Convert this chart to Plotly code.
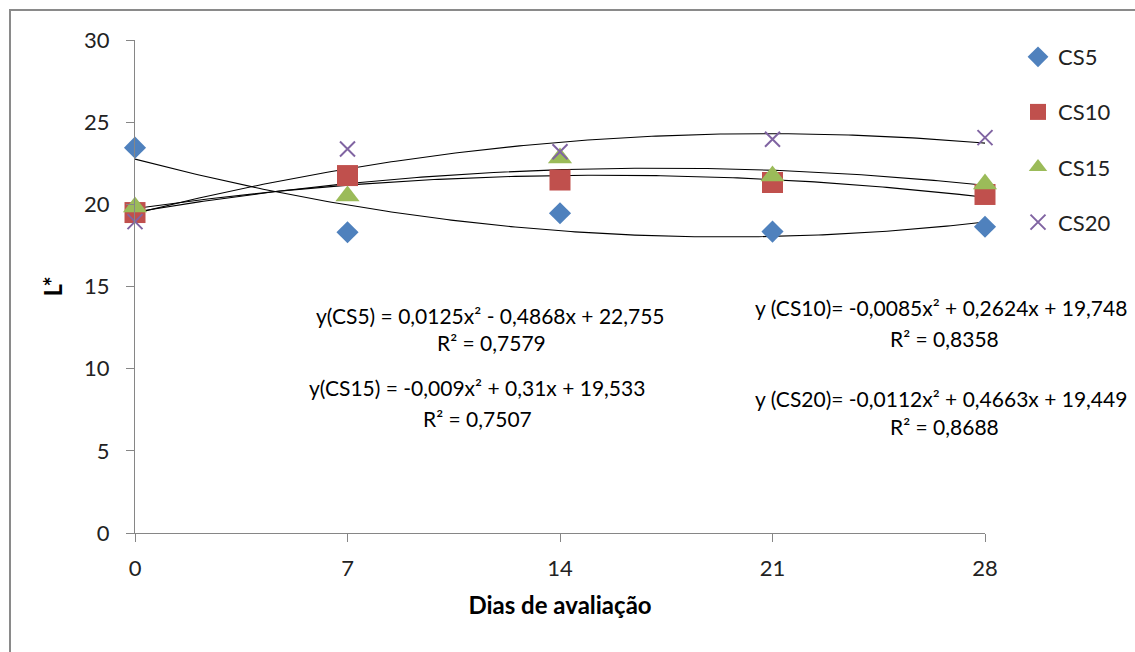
import numpy as np
import plotly.graph_objects as go

# Sampling days
dias = [0, 7, 14, 21, 28]

# L* values per treatment
cs5 = [23.45, 18.3, 19.46, 18.34, 18.64]
cs10 = [19.5, 21.75, 21.48, 21.33, 20.6]
cs15 = [19.84, 20.5, 22.82, 21.73, 21.24]
cs20 = [18.95, 23.37, 23.2, 23.96, 24.06]

# Quadratic trend coefficients (a, b, c) for y = a*x^2 + b*x + c
coef_cs5 = [0.0125, -0.4868, 22.755]
coef_cs10 = [-0.0085, 0.2624, 19.748]
coef_cs15 = [-0.009, 0.31, 19.533]
coef_cs20 = [-0.0112, 0.4663, 19.449]

eq_cs5 = "y(CS5) = 0,0125x² - 0,4868x + 22,755"
r2_cs5 = "R² = 0,7579"
eq_cs10 = "y (CS10)= -0,0085x² + 0,2624x + 19,748"
r2_cs10 = "R² = 0,8358"
eq_cs15 = "y(CS15) = -0,009x² + 0,31x + 19,533"
r2_cs15 = "R² = 0,7507"
eq_cs20 = "y (CS20)= -0,0112x² + 0,4663x + 19,449"
r2_cs20 = "R² = 0,8688"

FONT = "Lato"
W, H = 1135, 652
ML, MR, MT, MB = 135, 150, 40, 119
PW, PH = W - ML - MR, H - MT - MB


def px(x):
    return (x - ML) / PW


def py(y):
    return (H - MB - y) / PH


fig = go.Figure()

series = [
    ("CS5", cs5, coef_cs5, "#4F81BD", "diamond", 17, None),
    ("CS10", cs10, coef_cs10, "#C0504D", "square", 21, None),
    ("CS15", cs15, coef_cs15, "#9BBB59", "triangle-up", 21, None),
    ("CS20", cs20, coef_cs20, "#8064A2", "x-thin-open", 15, 2),
]

xs = np.linspace(0, 28, 200)
for name, vals, coef, color, symbol, size, lw in series:
    ys = np.polyval(coef, xs)
    fig.add_trace(go.Scatter(
        x=xs, y=ys, mode="lines", showlegend=False, hoverinfo="skip",
        line=dict(color="black", width=1.1), cliponaxis=False,
    ))

for i, (name, vals, coef, color, symbol, size, lw) in enumerate(series):
    marker = dict(color=color, symbol=symbol, size=size)
    if lw:
        marker["line"] = dict(color=color, width=lw)
    else:
        marker["line"] = dict(width=0)
    fig.add_trace(go.Scatter(
        x=dias, y=vals, mode="markers", name=name, marker=marker,
        legendgroup=name, cliponaxis=False,
    ))

annots = [
    (eq_cs5, 490, 315, "center"),
    (r2_cs5, 491, 343, "center"),
    (eq_cs15, 477, 388, "center"),
    (r2_cs15, 477, 418, "center"),
    (eq_cs10, 753, 308, "left"),
    (r2_cs10, 944, 338, "center"),
    (eq_cs20, 753, 398, "left"),
    (r2_cs20, 944, 426, "center"),
]
annotations = []
for text, x, y, anchor in annots:
    annotations.append(dict(
        text=text, x=px(x), y=py(y), xref="paper", yref="paper",
        xanchor=anchor, yanchor="middle", showarrow=False,
        font=dict(family=FONT, size=21, color="black"),
    ))

axis_common = dict(
    showgrid=False, zeroline=False, showline=True, linecolor="#868686",
    linewidth=1, ticks="outside", tickcolor="#868686", ticklen=8,
    tickfont=dict(family=FONT, size=22, color="#222222"),
)

fig.update_layout(
    width=W, height=H,
    margin=dict(l=ML, r=MR, t=MT, b=MB),
    paper_bgcolor="white", plot_bgcolor="white",
    xaxis=dict(
        range=[0, 28], tickvals=dias, ticklabelstandoff=8,
        title=dict(text="<b>Dias de avaliação</b>", standoff=16,
                   font=dict(family=FONT, size=24, color="black")),
        **axis_common,
    ),
    yaxis=dict(
        range=[0, 30], tickvals=[0, 5, 10, 15, 20, 25, 30], ticklabelstandoff=12,
        title=dict(text="<b>L*</b>", standoff=14,
                   font=dict(family=FONT, size=24, color="black")),
        **axis_common,
    ),
    legend=dict(
        x=px(1018), y=py(36), xanchor="left", yanchor="top",
        font=dict(family=FONT, size=22, color="#222222"),
        traceorder="grouped", tracegroupgap=23.5, bgcolor="rgba(0,0,0,0)",
    ),
    annotations=annotations,
    shapes=[dict(
        type="rect", xref="paper", yref="paper",
        x0=px(10), y0=py(700), x1=px(1200), y1=py(10),
        line=dict(color="#8a8a8a", width=2), layer="below",
    )],
)

fig.write_html("out.html")
